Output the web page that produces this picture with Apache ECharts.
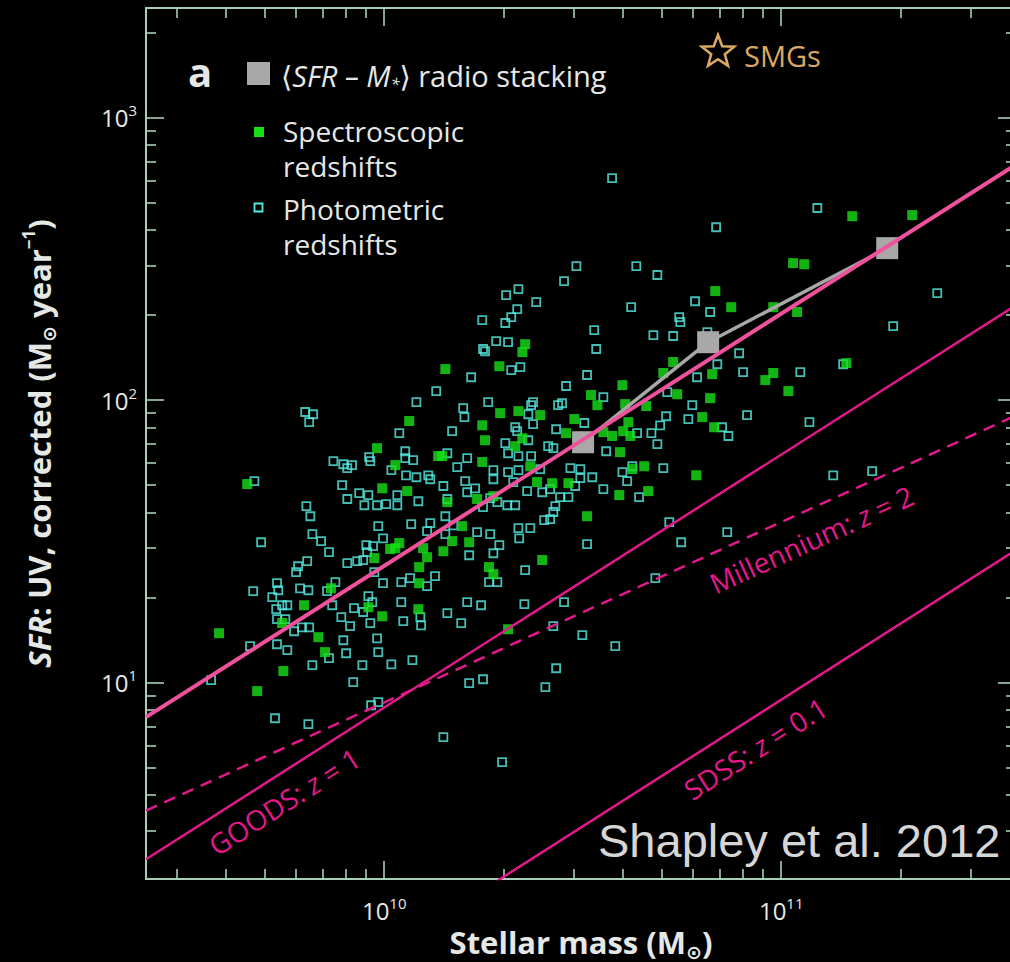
<!DOCTYPE html>
<html><head><meta charset="utf-8">
<script src="https://cdn.jsdelivr.net/npm/echarts@6/dist/echarts.min.js"></script>
<style>html,body{margin:0;padding:0;background:#000;}#c{width:1010px;height:962px;}</style>
</head><body><div id="c"></div>
<script>
// ---------- DATA (log10 stellar mass [Msun], log10 SFR [Msun/yr]) ----------
const photometric = [
[10.131,2.032],[10.081,1.993],[10.038,1.883],[10.053,1.819],[10.053,1.795],[10.073,1.788],[10.018,1.752],[10.055,1.734],[10.081,1.727],[10.111,1.734],
[10.116,1.720],[9.872,1.784],[9.897,1.773],[9.919,1.770],[9.907,1.759],[9.962,1.798],[9.965,1.784],[9.894,1.699],[9.907,1.650],[9.937,1.671],
[9.960,1.664],[9.950,1.628],[9.982,1.628],[10.005,1.632],[10.033,1.628],[10.033,1.664],[10.086,1.642],[9.801,1.958],[9.821,1.950],[9.811,1.922],
[9.673,1.713],[9.804,1.625],[9.814,1.589],[9.690,1.497],[9.819,1.526],[9.841,1.501],[9.861,1.462],[9.985,1.554],[9.997,1.511],[10.068,1.561],
[10.116,1.565],[10.108,1.536],[9.955,1.487],[9.972,1.483],[9.957,1.462],[9.932,1.430],[9.947,1.434],[9.907,1.423],[9.806,1.430],[9.783,1.412],
[9.778,1.391],[9.975,1.391],[9.997,1.352],[10.043,1.356],[10.065,1.370],[10.108,1.342],[10.128,1.377],[9.670,1.324],[9.718,1.303],[9.730,1.352],
[9.733,1.327],[9.728,1.260],[9.788,1.334],[9.809,1.327],[9.856,1.324],[9.877,1.356],[9.869,1.274],[9.743,1.274],[9.756,1.274],[9.730,1.225],
[9.751,1.225],[9.773,1.182],[9.811,1.196],[9.793,1.196],[9.892,1.232],[9.914,1.200],[9.924,1.264],[9.947,1.250],[9.960,1.306],[9.970,1.285],
[9.965,1.211],[10.043,1.285],[10.048,1.218],[10.091,1.232],[10.093,1.203],[9.897,1.150],[9.982,1.157],[9.985,1.108],[9.904,1.104],[9.861,1.087],
[9.819,1.062],[9.945,1.062],[10.018,1.065],[10.071,1.080],[9.662,1.129],[9.730,1.136],[9.756,1.115],[9.564,1.009],[9.922,1.002],[9.967,0.920],
[9.985,0.931],[9.725,0.874],[9.809,0.853],
[10.574,2.786],[10.484,2.474],[10.453,2.421],[10.307,2.372],[10.338,2.393],
[10.383,2.347],[10.335,2.322],[10.320,2.294],[10.305,2.273],[10.247,2.283],[10.529,2.248],[10.534,2.181],[10.282,2.209],[10.312,2.205],[10.249,2.181],
[10.254,2.173],[10.219,2.081],[10.320,2.106],[10.343,2.117],[10.511,2.089],[10.458,2.050],[10.448,1.989],[10.438,1.982],[10.375,1.993],[10.370,1.982],
[10.262,1.993],[10.199,1.972],[10.202,1.940],[10.363,1.950],[10.375,1.915],[10.330,1.904],[10.335,1.890],[10.171,1.890],[10.433,1.897],[10.504,1.919],
[10.305,1.848],[10.312,1.812],[10.363,1.858],[10.413,1.837],[10.426,1.830],[10.370,1.802],[10.338,1.802],[10.159,1.812],[10.209,1.795],[10.184,1.763],
[10.275,1.752],[10.312,1.745],[10.338,1.752],[10.393,1.756],[10.469,1.759],[10.494,1.756],[10.524,1.727],[10.494,1.724],[10.481,1.696],[10.464,1.657],
[10.443,1.657],[10.418,1.685],[10.398,1.674],[10.360,1.678],[10.325,1.710],[10.275,1.720],[10.204,1.713],[10.229,1.688],[10.209,1.674],[10.159,1.650],
[10.149,1.696],[10.267,1.653],[10.285,1.639],[10.249,1.621],[10.310,1.628],[10.330,1.628],[10.431,1.625],[10.426,1.604],[10.418,1.579],[10.403,1.575],
[10.338,1.547],[10.368,1.547],[10.340,1.511],[10.267,1.526],[10.290,1.487],[10.234,1.533],[10.154,1.589],[10.174,1.557],[10.511,1.490],[10.154,1.526],
[10.552,1.685],[10.642,1.657],[10.612,1.713],[10.748,1.497],[10.864,1.533],[10.718,1.568],[10.600,1.745],
[11.091,2.680],[10.836,2.612],[10.635,2.474],[10.688,2.443],[11.393,2.379],[10.622,2.329],[10.783,2.350],[10.821,2.312],[10.743,2.294],[10.746,2.276],
[10.678,2.230],[10.728,2.227],[11.282,2.262],[10.894,2.166],[10.839,2.127],[10.814,2.241],[10.904,2.099],[11.048,2.099],[10.788,2.081],[11.156,2.127],
[10.713,2.028],[10.552,2.011],[10.776,1.982],[10.710,1.943],[10.766,1.933],[10.914,1.947],[11.071,1.922],[10.695,1.911],[10.673,1.883],[10.637,1.883],
[10.851,1.904],[10.867,1.873],[10.688,1.844],[10.559,1.819],[10.625,1.766],[10.703,1.759],[11.131,1.734],[11.229,1.749],
[10.355,1.398],[10.264,1.356],[10.285,1.356],[10.209,1.285],[10.244,1.274],[10.353,1.278],[10.159,1.246],[10.194,1.211],[10.453,1.285],[10.426,1.200],
[10.499,1.168],[10.582,1.129],[10.683,1.370],[10.433,1.051],[10.406,0.984],[10.249,1.012],[10.214,0.998],[10.149,0.807],[10.297,0.719],[10.214,1.451],[10.275,1.458]
];
const spectroscopic = [
[10.063,1.926],[9.982,1.830],[10.028,1.770],[10.136,1.802],[9.995,1.688],[10.058,1.678],[9.655,1.703],[10.028,1.476],[10.038,1.494],[10.015,1.473],
[10.098,1.476],[10.108,1.444],[9.975,1.441],[10.088,1.409],[10.088,1.352],[9.866,1.334],[9.798,1.274],[9.960,1.267],[9.995,1.235],[10.086,1.260],
[9.743,1.211],[9.584,1.175],[9.834,1.161],[9.851,1.108],[9.746,1.041],[9.680,0.970],
[10.355,2.198],[10.348,2.170],[10.290,2.120],[10.154,2.110],[10.521,2.018],[10.537,1.982],[10.292,1.954],[10.338,1.961],[10.393,1.947],[10.247,1.911],
[10.479,1.933],[10.458,1.883],[10.254,1.858],[10.330,1.837],[10.348,1.865],[10.146,1.802],[10.247,1.781],[10.368,1.766],[10.385,1.710],[10.423,1.706],
[10.464,1.706],[10.159,1.639],[10.234,1.650],[10.275,1.660],[10.196,1.554],[10.171,1.501],[10.214,1.497],[10.511,1.589],[10.149,1.465],
[10.592,1.664],[10.665,1.678],[10.552,1.887],[10.574,1.873],[10.602,1.890],[10.615,1.922],[10.620,1.873],[10.607,1.986],[10.660,1.979],[10.594,1.816],
[10.625,1.756],[10.655,1.766],[10.600,2.053],
[10.874,2.329],[10.728,2.135],[10.703,2.096],[10.826,2.092],[10.738,2.021],[10.821,2.007],[10.801,1.940],[10.831,1.904],[11.179,2.651],[11.330,2.655],
[11.030,2.485],[11.058,2.481],[10.834,2.386],[10.980,2.329],[11.040,2.312],[10.960,2.071],[10.980,2.096],[11.018,2.032],[11.164,2.131],[10.786,1.734],
[10.398,1.434],[10.264,1.409],[10.275,1.384],[10.312,1.189]
];
const radioStacking = [[10.501,1.851],[10.816,2.205],[11.267,2.538]];
const mainSequenceFit = [[9.4,0.878],[11.592,2.834]];
const goodsZ1 = [[9.4,0.375],[11.592,2.337]];
const millenniumZ2 = [[9.4,0.547],[11.592,1.946]];
const sdssZ01 = [[10.25,0.267],[11.592,1.470]];
const lineLabels = [
  {name:'GOODS', z:'1', at:[9.748,0.580], line: goodsZ1},
  {name:'Millennium', z:'2', at:[11.076,1.508], line: millenniumZ2},
  {name:'SDSS', z:'0.1', at:[10.935,0.768], line: sdssZ01}
];
const xMajorTicks = [10, 11];
const yMajorTicks = [1, 2, 3];
const minorMultipliers = [2,3,4,5,6,7,8,9];
const X_MIN = 9.4, X_MAX = 11.5914, Y_MIN = 0.305, Y_MAX = 3.388;

// ---------- CHART ----------
const FONT = "'Open Sans','DejaVu Sans',sans-serif";
const AX = '#a7ceb7';
const TXT = '#e6e8e6';
const PINK = '#f0519d', MAG = '#e3188b';

function minorTicks(lo, hi, decades) {
  const out = [];
  decades.forEach(d => minorMultipliers.forEach(m => {
    const v = d + Math.log10(m);
    if (v > lo && v < hi) out.push(v);
  }));
  return out;
}
const xMinor = minorTicks(X_MIN, X_MAX, [9,10,11]);
const yMinor = minorTicks(Y_MIN, Y_MAX, [0,1,2,3]);

const supRich = {
  b: {fontSize: 24, lineHeight: 30, color: TXT, fontFamily: FONT},
  s: {fontSize: 15, lineHeight: 14, verticalAlign: 'top', color: TXT, fontFamily: FONT}
};
function axis(dim, pos, major, minor, isMajor, labels, extra) {
  const a = {
    type: 'value', position: pos, gridIndex: 0,
    min: dim === 'x' ? X_MIN : Y_MIN, max: dim === 'x' ? X_MAX : Y_MAX,
    axisLine: {show: true, onZero: false, lineStyle: {color: AX, width: 2}},
    axisTick: {show: true, inside: true, length: isMajor ? 18 : 10,
               customValues: isMajor ? major : minor, lineStyle: {color: AX, width: 1.6}},
    axisLabel: labels ? {
      show: true, customValues: major, margin: dim === 'x' ? 16 : 9,
      formatter: v => '{b|10}{s|' + Math.round(v) + '}', rich: supRich
    } : {show: false},
    splitLine: {show: false}
  };
  return Object.assign(a, extra || {});
}

const NS = 31;
const nameRich = {
  b: {fontSize: NS, fontWeight: 'bold', lineHeight: 38, color: TXT, fontFamily: FONT},
  i: {fontSize: NS, fontWeight: 'bold', fontStyle: 'italic', lineHeight: 38, color: TXT, fontFamily: FONT},
  sub: {fontSize: 19, fontWeight: 'bold', lineHeight: 19, verticalAlign: 'bottom', color: TXT, fontFamily: "'DejaVu Sans',sans-serif"},
  sup: {fontSize: 17, fontWeight: 'bold', lineHeight: 16, verticalAlign: 'top', color: TXT, fontFamily: FONT}
};

const chart = echarts.init(document.getElementById('c'), null, {renderer: 'svg'});
const option = {
  backgroundColor: '#000',
  animation: false,
  grid: {left: 146, top: 8, width: 870, height: 871, containLabel: false, outerBoundsMode: 'none'},
  xAxis: [
    axis('x', 'bottom', xMajorTicks, xMinor, true, true, {
      name: '{b|Stellar mass (M}{sub|⊙}{b|)}', nameLocation: 'middle', nameGap: 44,
      nameTextStyle: {rich: nameRich}
    }),
    axis('x', 'bottom', xMajorTicks, xMinor, false, false),
    axis('x', 'top', xMajorTicks, xMinor, true, false),
    axis('x', 'top', xMajorTicks, xMinor, false, false)
  ],
  yAxis: [
    axis('y', 'left', yMajorTicks, yMinor, true, true, {
      name: '{i|SFR}{b|: UV, corrected (M}{sub|⊙}{b| year}{sup|−1}{b|)}', nameLocation: 'middle', nameGap: 88,
      nameRotate: 90, nameTextStyle: {rich: nameRich}
    }),
    axis('y', 'left', yMajorTicks, yMinor, false, false),
    axis('y', 'right', yMajorTicks, yMinor, true, false),
    axis('y', 'right', yMajorTicks, yMinor, false, false)
  ],
  series: [
    {type: 'scatter', name: 'Photometric redshifts', data: photometric, symbol: 'rect', symbolSize: 8,
     itemStyle: {color: 'rgba(0,0,0,0)', borderColor: '#55ece2', borderWidth: 1.8}, z: 2, silent: true},
    {type: 'scatter', name: 'Spectroscopic redshifts', data: spectroscopic, symbol: 'rect', symbolSize: 10,
     itemStyle: {color: '#16e016'}, z: 3, silent: true},
    {type: 'line', name: 'radio stacking', data: radioStacking, symbol: 'rect', symbolSize: 22,
     lineStyle: {color: '#a8a8a8', width: 3.5}, itemStyle: {color: '#a8a8a8'}, z: 4, silent: true},
    {type: 'line', data: millenniumZ2, symbol: 'none', clip: true,
     lineStyle: {color: MAG, width: 2.5, type: [12, 8]}, z: 5, silent: true},
    {type: 'line', data: goodsZ1, symbol: 'none', clip: true, lineStyle: {color: MAG, width: 2.5}, z: 5, silent: true},
    {type: 'line', data: sdssZ01, symbol: 'none', clip: true, lineStyle: {color: MAG, width: 2.5}, z: 5, silent: true},
    {type: 'line', data: mainSequenceFit, symbol: 'none', clip: true, lineStyle: {color: PINK, width: 4}, z: 6, silent: true}
  ]
};
chart.setOption(option);

// ---------- annotations ----------
const toPx = p => chart.convertToPixel({xAxisIndex: 0, yAxisIndex: 0}, p);
const graphics = [];
lineLabels.forEach(l => {
  const p = toPx(l.at), a = toPx(l.line[0]), b = toPx(l.line[1]);
  const ang = Math.atan2(a[1] - b[1], b[0] - a[0]);
  graphics.push({
    type: 'text', x: p[0], y: p[1], rotation: ang, z: 10, silent: true,
    style: {
      text: '{n|' + l.name + ': }{i|z}{n| = ' + l.z + '}',
      align: 'center', verticalAlign: 'middle',
      rich: {
        n: {fontSize: 28, fontFamily: FONT, fill: MAG, color: MAG},
        i: {fontSize: 28, fontFamily: FONT, fontStyle: 'italic', fill: MAG, color: MAG}
      }
    }
  });
});
function txt(x, y, text, extra) {
  return Object.assign({type: 'text', x: x, y: y, z: 10, silent: true,
    style: Object.assign({text: text, fill: TXT, font: '28px ' + FONT, lineHeight: 35, verticalAlign: 'middle', align: 'left'}, extra || {})});
}
graphics.push(txt(188, 71, 'a', {font: 'bold 40px ' + FONT, lineHeight: 40}));
graphics.push({type: 'rect', shape: {x: 247, y: 62, width: 23, height: 23}, style: {fill: '#a8a8a8'}, z: 10, silent: true});
graphics.push(txt(281, 75, '{n|⟨}{i|SFR – M}{s|*}{n|⟩ radio stacking}', {
  rich: {
    n: {fontSize: 29, fontFamily: FONT, fill: TXT, color: TXT, lineHeight: 34},
    i: {fontSize: 29, fontFamily: FONT, fontStyle: 'italic', fill: TXT, color: TXT, lineHeight: 34},
    s: {fontSize: 16, fontFamily: FONT, fontStyle: 'italic', fill: TXT, color: TXT, lineHeight: 16, verticalAlign: 'bottom'}
  }
}));
graphics.push({type: 'rect', shape: {x: 254, y: 127, width: 10, height: 10}, style: {fill: '#16e016'}, z: 10, silent: true});
graphics.push(txt(283, 148, 'Spectroscopic\nredshifts'));
graphics.push({type: 'rect', shape: {x: 254.5, y: 203.5, width: 8, height: 8}, style: {fill: 'none', stroke: '#55ece2', lineWidth: 1.8}, z: 10, silent: true});
graphics.push(txt(283, 226, 'Photometric\nredshifts'));
// star glyph for SMGs legend
const starPts = [];
for (let k = 0; k < 10; k++) {
  const r = k % 2 === 0 ? 17 : 7.2;
  const t = -Math.PI / 2 + k * Math.PI / 5;
  starPts.push([718 + r * Math.cos(t), 52 + r * Math.sin(t)]);
}
graphics.push({type: 'polygon', shape: {points: starPts}, style: {fill: 'none', stroke: '#d9a862', lineWidth: 2.6}, z: 10, silent: true});
graphics.push(txt(744, 55, 'SMGs', {fill: '#d9a862', font: '29px ' + FONT}));
graphics.push(txt(598, 840, 'Shapley et al. 2012', {fill: '#d6d6d6', font: '47px "Liberation Sans", Arial, sans-serif', lineHeight: 48}));
chart.setOption({graphic: graphics});
</script>
</body></html>
